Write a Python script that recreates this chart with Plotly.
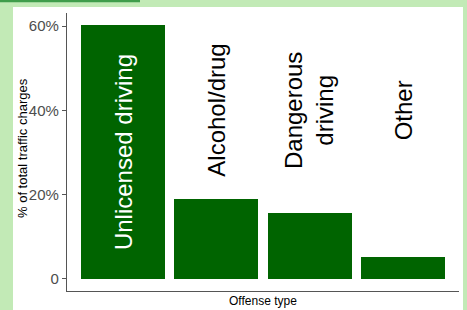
import plotly.graph_objects as go

categories = ["Unlicensed driving", "Alcohol/drug", "Dangerous driving", "Other"]
bar_labels = ["Unlicensed driving", "Alcohol/drug", "Dangerous<br>driving", "Other"]
values = [60.2, 19.0, 15.6, 5.1]
tick_vals = [0, 20, 40, 60]
tick_text = ["0", "20%", "40%", "60%"]

BAR = "#006400"
FONT = "Liberation Sans, Arial, sans-serif"

W, H = 467, 310
L, R, T, B = 67, 8, 13, 19
pw, ph = W - L - R, H - T - B


def px_x(p):
    return (p - L) / pw


def px_y(q):
    return (H - B - q) / ph


fig = go.Figure()
fig.add_trace(go.Bar(x=categories, y=values, width=0.9, marker=dict(color=BAR, line=dict(width=0)),
                     hoverinfo="skip"))

annotations = []
for cat, lab, v in zip(categories, bar_labels, values):
    inside = v > 40
    annotations.append(dict(
        x=cat, y=v / 2 if inside else 40, xref="x", yref="y", text=lab,
        showarrow=False, textangle=-90, xanchor="center", yanchor="middle",
        font=dict(family=FONT, size=24, color="white" if inside else "black"),
    ))

annotations.append(dict(
    x=0.5, y=px_y(300.5), xref="paper", yref="paper", text="Offense type", showarrow=False,
    xanchor="center", yanchor="middle", font=dict(family=FONT, size=12, color="black")))
annotations.append(dict(
    x=px_x(22), y=px_y(148), xref="paper", yref="paper", text="% of total traffic charges", showarrow=False,
    textangle=-90, xanchor="center", yanchor="middle", font=dict(family=FONT, size=13, color="black")))

shapes = [
    dict(type="rect", xref="paper", yref="paper", x0=px_x(13), x1=px_x(463), y0=px_y(7), y1=px_y(312),
         fillcolor="white", line=dict(width=0), layer="below"),
    dict(type="rect", xref="paper", yref="paper", x0=px_x(-2), x1=px_x(140), y0=px_y(2.2), y1=px_y(-2),
         fillcolor="#3f9d4b", line=dict(width=0), layer="above"),
]

fig.update_layout(
    width=W, height=H, margin=dict(l=L, r=R, t=T, b=B, pad=0, autoexpand=False),
    paper_bgcolor="#c2eab6", plot_bgcolor="rgba(0,0,0,0)",
    showlegend=False, bargap=0,
    annotations=annotations, shapes=shapes,
    font=dict(family=FONT),
    xaxis=dict(range=[-0.6, 3.6], showticklabels=False, ticks="", showgrid=False, zeroline=False,
               showline=True, linecolor="#555555", linewidth=1.2, automargin=False),
    yaxis=dict(range=[-2.85, 63.1], tickvals=tick_vals, ticktext=tick_text, ticks="outside", ticklen=4,
               tickcolor="#555555", tickwidth=1.2, showgrid=False, zeroline=False,
               showline=True, linecolor="#555555", linewidth=1.2, automargin=False,
               tickfont=dict(size=15, color="#4d4d4d")),
)

fig.write_html("out.html", config={"displayModeBar": False},
               post_script="document.body.style.margin='0';document.body.style.overflow='hidden';")
